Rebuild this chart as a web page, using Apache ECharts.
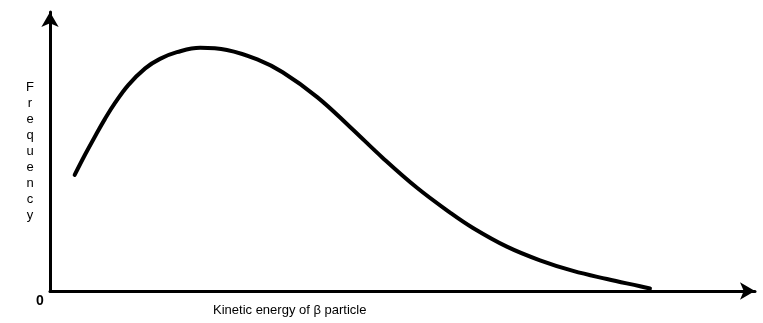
<!DOCTYPE html>
<html><head><meta charset="utf-8">
<script src="https://cdn.jsdelivr.net/npm/echarts@6/dist/echarts.min.js"></script>
<style>html,body{margin:0;padding:0;background:#fff}#c{width:763px;height:323px}</style>
</head><body><div id="c"></div>
<script>
var energy = [3.5, 5.0, 6.4, 7.8, 9.2, 11.1, 13.5, 15.6, 18.0, 21.3, 25.1, 29.4, 33.0, 37.9, 42.6, 47.2, 52.1, 56.7, 60.0, 64.8, 69.5, 74.2, 79.0, 83.7, 85.1];
var frequency = [41.6, 49.0, 55.5, 61.7, 67.3, 73.8, 79.8, 83.2, 85.6, 87.2, 86.4, 83.0, 78.4, 69.5, 58.7, 47.7, 36.9, 28.2, 22.6, 15.9, 11.0, 7.2, 4.3, 1.7, 0.9];
var xTitle = 'Kinetic energy of \u03b2 particle';
var yTitle = 'Frequency';
var originLabel = '0';

var chart = echarts.init(document.getElementById('c'), null, {renderer: 'canvas'});
chart.setOption({
  animation: false,
  backgroundColor: '#fff',
  grid: {left: 50, right: 8, top: 12, bottom: 32},
  xAxis: {
    type: 'value', min: 0, max: 100,
    axisLine: {show: true, symbol: ['none', 'arrow'], symbolSize: [13, 15], lineStyle: {color: '#000', width: 3}},
    axisTick: {show: false}, axisLabel: {show: false}, splitLine: {show: false}
  },
  yAxis: {
    type: 'value', min: 0, max: 100,
    axisLine: {show: true, symbol: ['none', 'arrow'], symbolSize: [13, 15], lineStyle: {color: '#000', width: 3}},
    axisTick: {show: false}, axisLabel: {show: false}, splitLine: {show: false},
    name: yTitle.split('').join('\n'), nameLocation: 'middle', nameRotate: 0, nameGap: 20,
    nameTextStyle: {color: '#000', fontSize: 13, lineHeight: 16, align: 'center', fontFamily: 'Liberation Sans, Arial, sans-serif'}
  },
  graphic: [{
    type: 'text', left: 36, top: 294,
    style: {text: originLabel, fill: '#000', font: 'bold 14px Liberation Sans, Arial, sans-serif'}
  }, {
    type: 'text', left: 213, top: 304,
    style: {text: xTitle, fill: '#000', font: '13px Liberation Sans, Arial, sans-serif'}
  }],
  series: [{
    type: 'line', smooth: 0.4, showSymbol: false,
    data: energy.map(function (e, i) { return [e, frequency[i]]; }),
    lineStyle: {color: '#000', width: 4, cap: 'round'}
  }]
});
</script></body></html>
